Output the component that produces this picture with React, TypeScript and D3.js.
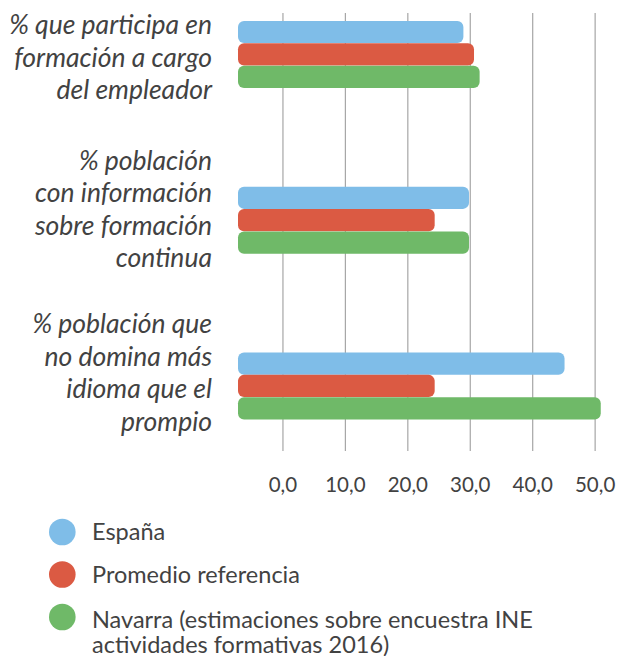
import React, { useEffect, useRef } from 'react';
import * as d3 from 'd3';

const categories = [
  ['% que participa en', 'formación a cargo', 'del empleador'],
  ['% población', 'con información', 'sobre formación', 'continua'],
  ['% población que', 'no domina más', 'idioma que el', 'prompio'],
];
const seriesNames = ['España', 'Promedio referencia', 'Navarra (estimaciones sobre encuestra INE actividades formativas 2016)'];
const espana = [28.9, 29.8, 45.1];
const promedio = [30.6, 24.3, 24.3];
const navarra = [31.5, 29.8, 50.9];
const ticks = [0, 10, 20, 30, 40, 50];
const colors = ['#7fbde8', '#db5a43', '#6fb968'];

const W = 618;
const H = 656;

const App = () => {
  const ref = useRef<SVGSVGElement>(null);
  useEffect(() => {
    const svg = d3.select(ref.current);
    svg.selectAll('*').remove();

    const series = [espana, promedio, navarra];
    const keys = categories.map((_, i) => String(i));

    // 0 sits at 283px, 50 at 595px; bars start left of zero
    const x = d3.scaleLinear().domain([-7.2, 51.9]).range([238, 607]);
    const y = d3.scaleBand().domain(keys).range([20.7, 419.7]).paddingInner(0.593).paddingOuter(0);
    const yInner = d3.scaleBand().domain(['0', '1', '2']).range([0, y.bandwidth()]).padding(0.01);
    const x0 = x(x.domain()[0]);

    // grid
    svg.append('g')
      .selectAll('line')
      .data(ticks)
      .enter()
      .append('line')
      .attr('x1', d => x(d))
      .attr('x2', d => x(d))
      .attr('y1', 13)
      .attr('y2', 451)
      .attr('stroke', '#a6a6a6')
      .attr('stroke-width', 1.2);

    // bars
    const groups = svg.append('g')
      .selectAll('g')
      .data(keys)
      .enter()
      .append('g')
      .attr('transform', d => `translate(0,${y(d)})`);

    groups.selectAll('rect')
      .data((d, i) => series.map((s, j) => ({ v: s[i], j })))
      .enter()
      .append('rect')
      .attr('x', x0)
      .attr('y', d => yInner(String(d.j)) as number)
      .attr('width', d => x(d.v) - x0)
      .attr('height', yInner.bandwidth())
      .attr('rx', 6)
      .attr('fill', d => colors[d.j]);

    // category labels
    const labelShift = [3, -11, -13];
    const lineH = 32.5;
    categories.forEach((lines, i) => {
      const cy = (y(keys[i]) as number) + y.bandwidth() / 2 + labelShift[i];
      const t = svg.append('text')
        .attr('text-anchor', 'end')
        .attr('font-family', 'Lato, sans-serif')
        .attr('font-style', 'italic')
        .attr('font-size', 26.5)
        .attr('fill', '#424242');
      lines.forEach((l, k) => {
        t.append('tspan')
          .attr('x', 212)
          .attr('y', cy + (k - (lines.length - 1) / 2) * lineH)
          .attr('dy', '0.35em')
          .text(l);
      });
    });

    // tick labels
    svg.append('g')
      .selectAll('text')
      .data(ticks)
      .enter()
      .append('text')
      .attr('x', d => x(d))
      .attr('y', 485)
      .attr('dy', '0.35em')
      .attr('text-anchor', 'middle')
      .attr('font-family', 'Lato, sans-serif')
      .attr('font-size', 20.5)
      .attr('fill', '#424242')
      .text(d => d3.format('.1f')(d).replace('.', ','));

    // legend
    const legend = svg.append('g');
    const legendLines = [['España'], ['Promedio referencia'], ['Navarra (estimaciones sobre encuestra INE', 'actividades formativas 2016)']];
    seriesNames.forEach((_, i) => {
      const ly = 532 + i * 42.5;
      legend.append('circle')
        .attr('cx', 62.3)
        .attr('cy', ly)
        .attr('r', 13.3)
        .attr('fill', colors[i]);
      const t = legend.append('text')
        .attr('font-family', 'Lato, sans-serif')
        .attr('font-size', 23.5)
        .attr('fill', '#424242');
      legendLines[i].forEach((l, k) => {
        t.append('tspan')
          .attr('x', 92)
          .attr('y', ly + (legendLines[i].length > 1 ? 3 : 0) + k * 25)
          .attr('dy', '0.35em')
          .text(l);
      });
    });
  }, []);

  return (
    <svg
      ref={ref}
      width={W}
      height={H}
      style={{ position: 'absolute', left: 0, top: 0, background: '#fff' }}
    />
  );
};

export default App;
